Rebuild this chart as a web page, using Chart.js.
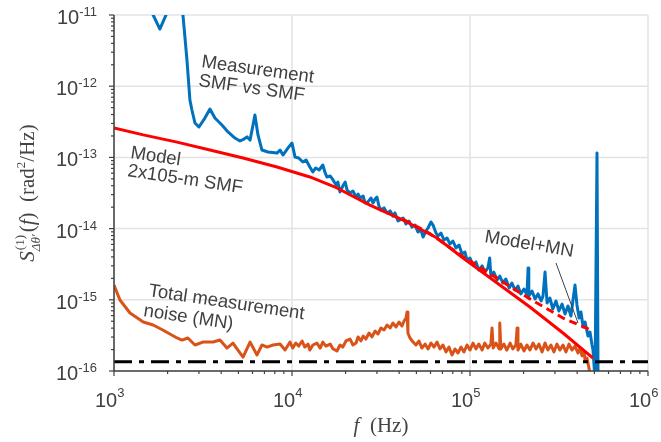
<!DOCTYPE html>
<html><head><meta charset="utf-8">
<script src="https://cdn.jsdelivr.net/npm/chart.js@4.4.1/dist/chart.umd.min.js"></script>
<style>html,body{margin:0;padding:0;background:#fff}</style>
</head><body>
<canvas id="c" width="661" height="442"></canvas>
<script>
// ---- data ----
const blueF = [1.55e3,1.66e3,1.81e3,1.96e3,2.06e3,2.35e3,2.44e3,2.57e3,2.67e3,2.74e3,2.85e3,3.00e3,3.24e3,3.46e3,3.69e3,4.04e3,4.37e3,4.78e3,5.10e3,5.37e3,5.59e3,5.81e3,6.04e3,6.19e3,6.44e3,6.78e3,7.33e3,8.24e3,8.57e3,8.90e3,9.50e3,
  1.00e4,1.04e4,1.09e4,1.15e4,1.20e4,1.26e4,1.31e4,1.36e4,1.42e4,1.49e4,1.53e4,1.57e4,1.64e4,1.70e4,1.77e4,1.81e4,1.86e4,1.93e4,1.99e4,2.04e4,2.12e4,2.20e4,2.29e4,2.35e4,2.41e4,2.51e4,2.57e4,2.67e4,2.78e4,2.85e4,2.93e4,3.00e4,3.08e4,3.16e4,3.29e4,3.42e4,3.56e4,3.69e4,3.79e4,3.94e4,4.04e4,4.21e4,4.37e4,4.54e4,4.72e4,4.91e4,5.10e4,5.31e4,5.45e4,5.66e4,5.81e4,6.04e4,6.20e4,6.44e4,6.61e4,6.87e4,7.14e4,7.43e4,7.72e4,8.02e4,8.34e4,8.68e4,9.02e4,9.37e4,9.62e4,
  1.00e5,1.04e5,1.08e5,1.12e5,1.17e5,1.21e5,1.26e5,1.29e5,1.31e5,1.36e5,1.42e5,1.47e5,1.53e5,1.59e5,1.66e5,1.72e5,1.79e5,1.86e5,1.93e5,2.01e5,2.09e5,2.12e5,2.14e5,2.23e5,2.32e5,2.41e5,2.51e5,2.57e5,2.64e5,2.71e5,2.81e5,2.92e5,3.04e5,3.16e5,3.29e5,3.42e5,3.55e5,3.69e5,3.79e5,3.89e5,3.99e5,4.10e5,4.20e5,4.32e5,4.43e5,4.60e5,4.72e5,4.85e5,4.91e5,5.04e5,5.10e5,5.17e5,5.24e5];
const blueS = [1.91e-11,1e-11,6.35e-12,1e-11,2.24e-11,2.24e-11,1e-11,2.33e-12,6.40e-13,4.63e-13,3.04e-13,2.67e-13,3.57e-13,4.79e-13,3.57e-13,2.85e-13,2.28e-13,1.87e-13,1.70e-13,1.81e-13,1.94e-13,1.75e-13,2.85e-13,3.94e-13,2.07e-13,1.27e-13,1.19e-13,1.15e-13,1.27e-13,1.08e-13,1.36e-13,
  1.59e-13,1.01e-13,9.82e-14,8.61e-14,9.18e-14,7.33e-14,6.24e-14,7.10e-14,6.65e-14,7.82e-14,6.24e-14,5.31e-14,5.48e-14,4.82e-14,4.09e-14,4.51e-14,3.27e-14,3.96e-14,4.51e-14,3.48e-14,3.16e-14,3.37e-14,2.78e-14,3.06e-14,2.69e-14,2.87e-14,2.29e-14,2.37e-14,2.69e-14,2.29e-14,2.61e-14,2.78e-14,2.07e-14,1.82e-14,1.95e-14,1.66e-14,1.77e-14,1.50e-14,1.66e-14,1.28e-14,1.32e-14,1.41e-14,1.16e-14,1.28e-14,1.05e-14,1.12e-14,8.95e-15,9.55e-15,7.62e-15,9.25e-15,1.02e-14,1.24e-14,1.12e-14,8.67e-15,7.87e-15,8.67e-15,6.92e-15,7.38e-15,6.08e-15,6.70e-15,5.35e-15,5.89e-15,4.40e-15,4.69e-15,3.62e-15,
  3.86e-15,3.08e-15,3.40e-15,2.62e-15,2.99e-15,2.45e-15,2.80e-15,3.86e-15,2.16e-15,2.45e-15,1.90e-15,2.16e-15,1.72e-15,1.96e-15,1.47e-15,1.72e-15,1.37e-15,1.56e-15,1.21e-15,1.42e-15,1.17e-15,2.80e-15,1.13e-15,1.33e-15,1.03e-15,1.21e-15,9.62e-16,1.13e-15,2.45e-15,9.02e-16,1.06e-15,7.43e-16,9.62e-16,6.97e-16,8.73e-16,6.32e-16,8.18e-16,5.92e-16,9.93e-16,1.61e-15,8.45e-16,5.55e-16,6.75e-16,4.15e-16,4.88e-16,3.10e-16,3.53e-16,2.32e-16,1.97e-16,7.5e-17,7.5e-17,1.15e-13,7.5e-17];

const noiseF = [1.00e3,1.08e3,1.23e3,1.46e3,1.66e3,1.88e3,2.26e3,2.41e3,2.60e3,2.85e3,3.16e3,3.60e3,3.94e3,4.31e3,4.66e3,4.97e3,5.31e3,5.81e3,6.36e3,6.78e3,7.24e3,7.82e3,8.57e3,9.14e3,
  9.75e3,1.01e4,1.05e4,1.09e4,1.14e4,1.18e4,1.23e4,1.26e4,1.31e4,1.38e4,1.44e4,1.49e4,1.55e4,1.64e4,1.70e4,1.79e4,1.86e4,1.93e4,2.01e4,2.12e4,2.20e4,2.29e4,2.35e4,2.44e4,2.51e4,2.60e4,2.71e4,2.81e4,2.93e4,3.04e4,3.16e4,3.29e4,3.42e4,3.56e4,3.69e4,3.84e4,3.99e4,4.15e4,4.26e4,4.37e4,4.43e4,4.48e4,4.60e4,4.79e4,4.97e4,5.17e4,5.37e4,5.59e4,5.81e4,6.04e4,6.28e4,6.53e4,6.78e4,7.05e4,7.33e4,7.62e4,7.92e4,8.24e4,8.56e4,8.90e4,9.25e4,9.62e4,
  1.00e5,1.04e5,1.08e5,1.12e5,1.17e5,1.21e5,1.26e5,1.31e5,1.33e5,1.35e5,1.40e5,1.46e5,1.47e5,1.49e5,1.55e5,1.61e5,1.68e5,1.74e5,1.81e5,1.84e5,1.86e5,1.93e5,2.01e5,2.09e5,2.17e5,2.26e5,2.35e5,2.44e5,2.54e5,2.64e5,2.74e5,2.85e5,2.96e5,3.08e5,3.20e5,3.33e5,3.46e5,3.60e5,3.74e5,3.89e5,4.04e5,4.15e5,4.26e5,4.37e5,4.43e5,4.54e5,4.72e5];
const noiseS = [1.61e-15,9.93e-16,6.53e-16,4.88e-16,4.43e-16,3.77e-16,2.91e-16,2.72e-16,2.91e-16,2.32e-16,2.55e-16,2.55e-16,2.72e-16,2.10e-16,2.47e-16,1.97e-16,1.57e-16,2.55e-16,1.68e-16,2.32e-16,2.17e-16,2.32e-16,2.39e-16,1.97e-16,
  2.55e-16,2.10e-16,2.47e-16,2.24e-16,2.64e-16,2.17e-16,2.39e-16,1.97e-16,2.32e-16,2.47e-16,2.10e-16,2.55e-16,2.24e-16,2.39e-16,2.04e-16,1.91e-16,2.32e-16,2.17e-16,2.64e-16,2.81e-16,2.32e-16,2.47e-16,3.01e-16,2.64e-16,3.10e-16,2.81e-16,3.42e-16,3.01e-16,3.65e-16,3.31e-16,4.02e-16,3.77e-16,4.43e-16,4.02e-16,4.72e-16,4.15e-16,4.88e-16,4.29e-16,5.04e-16,5.55e-16,6.75e-16,3.42e-16,2.91e-16,2.55e-16,2.32e-16,2.64e-16,2.10e-16,2.39e-16,2.04e-16,2.47e-16,2.17e-16,2.55e-16,2.04e-16,2.32e-16,1.85e-16,2.17e-16,1.68e-16,2.04e-16,1.79e-16,2.17e-16,1.85e-16,2.32e-16,
  1.97e-16,2.47e-16,2.04e-16,2.39e-16,1.97e-16,2.47e-16,2.10e-16,2.39e-16,4.02e-16,2.10e-16,2.47e-16,2.04e-16,4.72e-16,2.04e-16,2.39e-16,1.97e-16,2.47e-16,2.04e-16,2.32e-16,4.02e-16,1.97e-16,2.39e-16,1.91e-16,2.32e-16,1.97e-16,2.47e-16,2.04e-16,2.39e-16,1.85e-16,2.47e-16,1.97e-16,2.32e-16,1.85e-16,2.39e-16,1.97e-16,2.32e-16,1.85e-16,2.39e-16,1.97e-16,2.24e-16,1.79e-16,2.10e-16,1.63e-16,1.85e-16,1.43e-16,1.52e-16,9.4e-17];

const modelF = [1.00e3,1.46e3,2.26e3,3.46e3,5.31e3,8.24e3,1.26e4,1.79e4,2.74e4,4.21e4,6.53e4,9.14e4,1.42e5,2.17e5,3.33e5,4.91e5];
const modelS = [2.59e-13,2.07e-13,1.64e-13,1.27e-13,9.82e-14,7.33e-14,5.31e-14,3.72e-14,2.14e-14,1.32e-14,7.38e-15,3.86e-15,1.72e-15,7.93e-16,3.42e-16,1.52e-16];

const modelMnF = [4.21e4,5.96e4,9.14e4,1.42e5,2.17e5,3.33e5,4.91e5];
const modelMnS = [1.35e-14,8.5e-15,4.04e-15,2.0e-15,1.03e-15,5.55e-16,3.65e-16];

const floorF = [1e3,1e6];
const floorS = [1.35e-16,1.35e-16];

const xTickVals = [1e3,1e4,1e5,1e6];
const xTickExp  = ['3','4','5','6'];
const yTickVals = [1e-16,1e-15,1e-14,1e-13,1e-12,1e-11];
const yTickExp  = ['-16','-15','-14','-13','-12','-11'];

// ---- drawing ----
const pts = (fs, ss) => fs.map((f, i) => ({x: f, y: ss[i]}));
const AX = '#404040';
const SANS = '"Liberation Sans", Arial, Helvetica, sans-serif';
const SERIF = '"Liberation Serif", "DejaVu Serif", serif';

function minorVals(vals){
  const out = [];
  for (let i = 0; i < vals.length - 1; i++) for (let k = 2; k <= 9; k++) out.push(vals[i] * k);
  return out;
}

const axesPlugin = {
  id: 'axesPlugin',
  beforeDatasetsDraw(chart){
    const {ctx, chartArea: a, scales: {x, y}} = chart;
    ctx.save();
    ctx.strokeStyle = '#e3e3e3'; ctx.lineWidth = 1.5;
    xTickVals.forEach(v => { const p = x.getPixelForValue(v); ctx.beginPath(); ctx.moveTo(p, a.top); ctx.lineTo(p, a.bottom); ctx.stroke(); });
    yTickVals.forEach(v => { const p = y.getPixelForValue(v); ctx.beginPath(); ctx.moveTo(a.left, p); ctx.lineTo(a.right, p); ctx.stroke(); });
    ctx.restore();
  },
  afterDatasetsDraw(chart){
    const {ctx, chartArea: a, scales: {x, y}} = chart;
    ctx.save();
    ctx.strokeStyle = AX; ctx.lineWidth = 1.5;
    ctx.beginPath(); ctx.moveTo(a.left, a.top); ctx.lineTo(a.left, a.bottom); ctx.lineTo(a.right, a.bottom); ctx.stroke();
    ctx.lineWidth = 1.2;
    const tk = (vals, len) => {
      vals.forEach(v => { const p = x.getPixelForValue(v); ctx.beginPath(); ctx.moveTo(p, a.bottom); ctx.lineTo(p, a.bottom + len); ctx.stroke(); });
    };
    const tky = (vals, len) => {
      vals.forEach(v => { const p = y.getPixelForValue(v); ctx.beginPath(); ctx.moveTo(a.left, p); ctx.lineTo(a.left - len, p); ctx.stroke(); });
    };
    tk(xTickVals, 5); tk(minorVals(xTickVals), 3);
    tky(yTickVals, 5); tky(minorVals(yTickVals), 3);

    ctx.fillStyle = AX; ctx.textBaseline = 'alphabetic'; ctx.textAlign = 'left';
    const big = '20px ' + SANS, small = '13px ' + SANS;
    yTickVals.forEach((v, i) => {
      const p = y.getPixelForValue(v);
      ctx.font = small; const we = ctx.measureText(yTickExp[i]).width;
      ctx.font = big; const wb = ctx.measureText('10').width;
      const x0 = 97 - we - wb;
      ctx.fillText('10', x0, p + 9);
      ctx.font = small; ctx.fillText(yTickExp[i], x0 + wb, p + 1);
    });
    xTickVals.forEach((v, i) => {
      const p = x.getPixelForValue(v);
      ctx.font = big; const wb = ctx.measureText('10').width;
      const x0 = p - 19;
      ctx.fillText('10', x0, 407);
      ctx.font = small; ctx.fillText(xTickExp[i], x0 + wb, 397);
    });

    // x title
    ctx.fillStyle = '#444';
    const tF = 'italic 21px ' + SERIF, tR = '21px ' + SERIF;
    ctx.font = tF; const wf = ctx.measureText('f').width;
    ctx.font = tR; const wr = ctx.measureText('  (Hz)').width;
    let sx = 381 - (wf + wr) / 2;
    ctx.font = tF; ctx.fillText('f', sx, 432);
    ctx.font = tR; ctx.fillText('  (Hz)', sx + wf, 432);

    // y title (rotated)
    ctx.save();
    ctx.translate(34, 193); ctx.rotate(-Math.PI / 2);
    const m = 'px ' + SERIF;
    const parts = [
      {t: 'S', f: 'italic 21' + m, dy: 0},
      {t: '(1)', f: '13' + m, dy: -10, stack: true},
      {t: '\u0394\u03B8\u2032', f: 'italic 13' + m, dy: 6},
      {t: '(', f: '21' + m, dy: 0},
      {t: 'f', f: 'italic 21' + m, dy: 0},
      {t: ')  (rad', f: '21' + m, dy: 0},
      {t: '2', f: '13' + m, dy: -9},
      {t: '/Hz)', f: '21' + m, dy: 0}
    ];
    let total = 0;
    parts.forEach(pp => { ctx.font = pp.f; pp.w = ctx.measureText(pp.t).width; });
    for (let i = 0; i < parts.length; i++) {
      const pp = parts[i];
      if (pp.stack) { total += Math.max(pp.w, parts[i+1].w) + 2; i++; }
      else total += pp.w;
    }
    let cx = -total / 2;
    for (let i = 0; i < parts.length; i++) {
      const pp = parts[i];
      if (pp.stack) {
        const q = parts[i+1];
        ctx.font = pp.f; ctx.fillText(pp.t, cx + 1, pp.dy);
        ctx.font = q.f; ctx.fillText(q.t, cx, q.dy);
        cx += Math.max(pp.w, q.w) + 2; i++;
      } else {
        ctx.font = pp.f; ctx.fillText(pp.t, cx, pp.dy); cx += pp.w;
      }
    }
    ctx.restore();

    // annotations
    ctx.fillStyle = AX;
    ctx.font = '18.5px ' + SANS;
    const note = (t, px, py, deg) => {
      ctx.save(); ctx.translate(px, py); ctx.rotate(deg * Math.PI / 180); ctx.fillText(t, 0, 0); ctx.restore();
    };
    note('Measurement', 201, 67, 8);
    note('SMF vs SMF', 198, 86, 8);
    note('Model', 130, 158, 8.5);
    note('2x105-m SMF', 127, 176, 8.5);
    note('Total measurement', 148, 296, 8.5);
    note('noise (MN)', 143, 316, 8.5);
    note('Model+MN', 484, 242, 9.5);
    ctx.strokeStyle = AX; ctx.lineWidth = 1;
    ctx.beginPath(); ctx.moveTo(556, 263); ctx.lineTo(578, 323); ctx.stroke();
    ctx.restore();
  }
};

new Chart(document.getElementById('c').getContext('2d'), {
  type: 'line',
  data: {datasets: [
    {label: 'Measurement SMF vs SMF', data: pts(blueF, blueS), borderColor: '#0072BD', borderWidth: 3, order: 5},
    {label: 'Total measurement noise (MN)', data: pts(noiseF, noiseS), borderColor: '#D95319', borderWidth: 3, order: 4},
    {label: 'Model 2x105-m SMF', data: pts(modelF, modelS), borderColor: '#FF0000', borderWidth: 3, order: 3},
    {label: 'Model+MN', data: pts(modelMnF, modelMnS), borderColor: '#FF0000', borderWidth: 3, borderDash: [8, 5], order: 2},
    {label: 'Noise floor', data: pts(floorF, floorS), borderColor: '#000000', borderWidth: 3, borderDash: [18, 7, 5, 7], order: 1}
  ]},
  options: {
    responsive: false, animation: false, devicePixelRatio: 1,
    layout: {padding: {left: 114, top: 15, right: 13, bottom: 71}},
    elements: {point: {radius: 0, hoverRadius: 0}, line: {tension: 0, fill: false, borderJoinStyle: 'round'}},
    plugins: {legend: {display: false}, tooltip: {enabled: false}},
    events: [],
    scales: {
      x: {type: 'logarithmic', min: 1e3, max: 1e6, display: false},
      y: {type: 'logarithmic', min: 1e-16, max: 1e-11, display: false}
    }
  },
  plugins: [axesPlugin]
});
</script>
</body></html>
